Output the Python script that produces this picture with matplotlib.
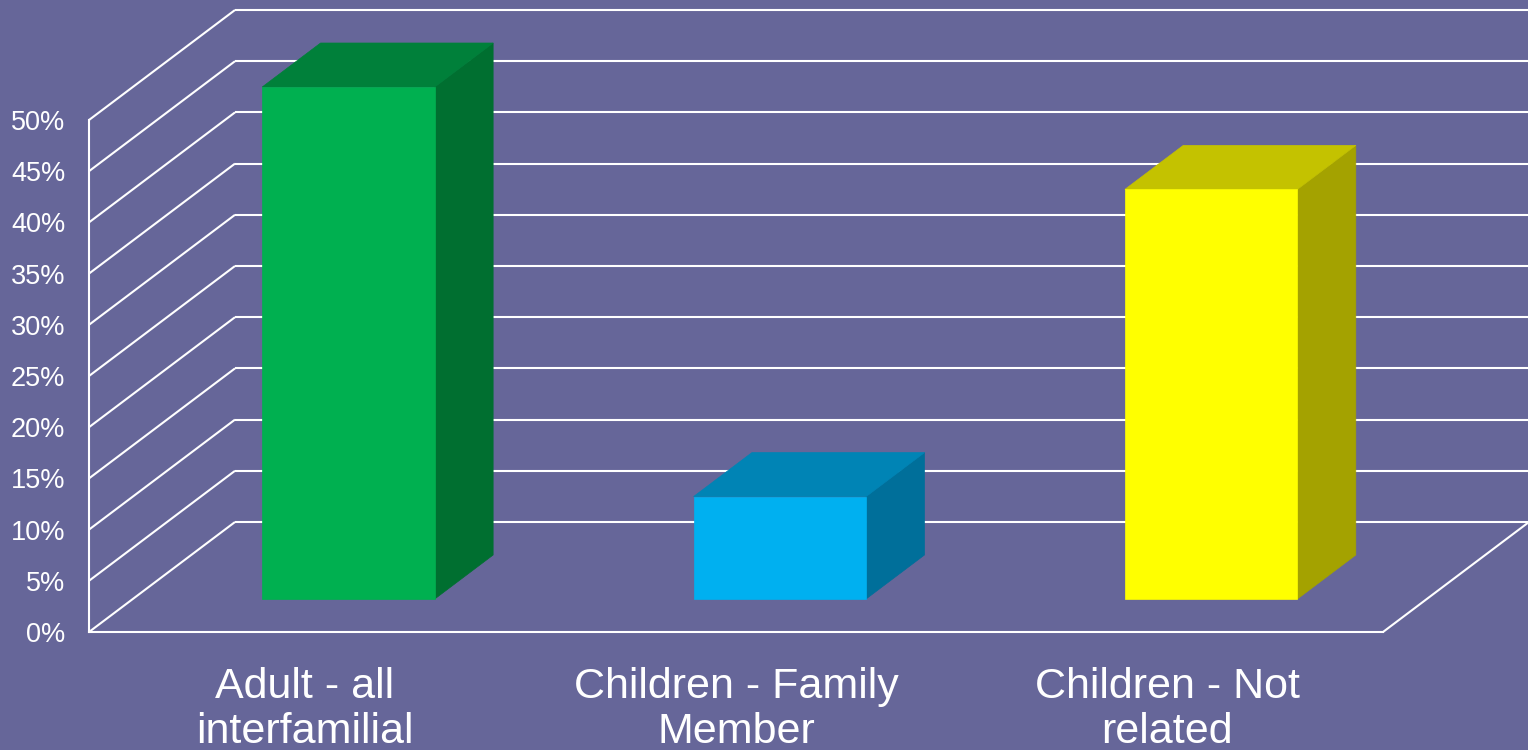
import matplotlib
matplotlib.use("Agg")
import matplotlib.pyplot as plt
from matplotlib.patches import Polygon
from matplotlib.ticker import PercentFormatter

plt.rcParams["font.family"] = ["Liberation Sans", "DejaVu Sans"]

categories = ["Adult - all\ninterfamilial", "Children - Family\nMember", "Children - Not\nrelated"]
values = [50, 10, 40]
front_colors = ["#00B050", "#00B0F0", "#FFFF00"]
top_colors = ["#00803A", "#0084B5", "#C4C200"]
side_colors = ["#006F30", "#006F9A", "#A4A200"]
y_ticks = list(range(0, 55, 5))

BG = "#666699"
# oblique offset for one unit of depth, in data units
DX = 146 / 1294 * 3
DY = 110 / 512 * 50


def proj(x, y, d):
    return (x + d * DX, y + d * DY)


fig = plt.figure(figsize=(15.28, 7.5), dpi=100, facecolor=BG)
ax = fig.add_axes([89 / 1528, 118 / 750, 1294 / 1528, 512 / 750])
ax.set_facecolor("none")
ax.set_xlim(0, len(categories))
ax.set_ylim(0, 50)

# walls and floor
grid_kw = dict(color="white", lw=1.5, clip_on=False, zorder=1, solid_capstyle="butt")
for v in y_ticks:
    x0, y0 = proj(0, v, 1)
    x1, y1 = proj(len(categories), v, 1)
    ax.plot([0, x0], [v, y0], **grid_kw)
    ax.plot([x0, x1], [y0, y1], **grid_kw)
xr, yr = proj(len(categories), 0, 1)
ax.plot([len(categories), xr], [0, yr], **grid_kw)

# 3D bars
for i, v in enumerate(values):
    xa, xb = i + 0.3, i + 0.7
    da, db = 0.3, 0.7
    front = [proj(xa, 0, da), proj(xb, 0, da), proj(xb, v, da), proj(xa, v, da)]
    top = [proj(xa, v, da), proj(xb, v, da), proj(xb, v, db), proj(xa, v, db)]
    side = [proj(xb, 0, da), proj(xb, 0, db), proj(xb, v, db), proj(xb, v, da)]
    for pts, c in ((side, side_colors[i]), (top, top_colors[i]), (front, front_colors[i])):
        ax.add_patch(Polygon(pts, closed=True, facecolor=c, edgecolor=c, lw=0.5,
                             clip_on=False, zorder=3))

for s in ("top", "right"):
    ax.spines[s].set_visible(False)
for s in ("left", "bottom"):
    ax.spines[s].set_color("white")
    ax.spines[s].set_linewidth(1.5)

ax.set_yticks(y_ticks)
ax.yaxis.set_major_formatter(PercentFormatter(decimals=0))
ax.tick_params(axis="y", length=0, pad=17, labelsize=19.5, labelcolor="white")
ax.set_xticks([i + 0.5 for i in range(len(categories))])
ax.set_xticklabels(categories, linespacing=1.18)
ax.tick_params(axis="x", length=0, pad=25, labelsize=31, labelcolor="white")

fig.savefig("out.png", dpi=100, facecolor=BG)
